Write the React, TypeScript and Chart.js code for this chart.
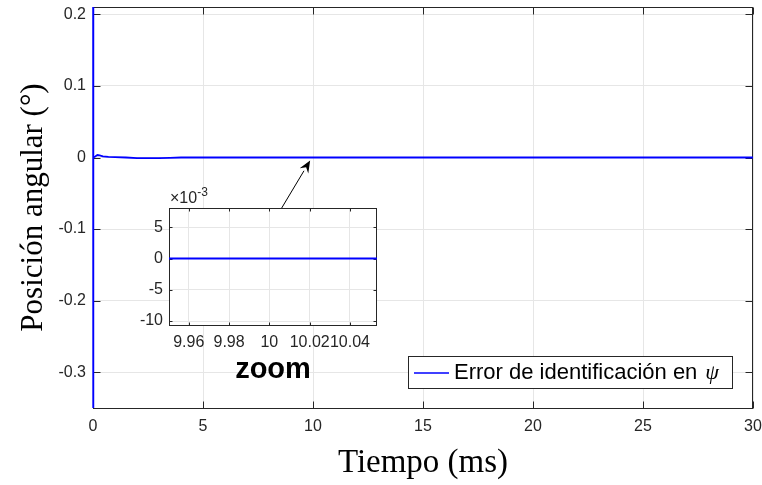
import { useEffect, useRef } from "react";
import { Chart, registerables } from "chart.js";

Chart.register(...registerables);

// Identification error of the yaw angle psi over time
const timeMs = [
  0, 0, 0.03, 0.1, 0.2, 0.3, 0.45, 0.7, 1.0, 1.5, 2.0, 2.5, 3.0, 3.5, 4.0,
  5.0, 6.0, 8.0, 10.0, 12.0, 15.0, 18.0, 21.0, 24.0, 27.0, 30.0,
];
const errorDeg = [
  0.9, -0.9, 0.0, 0.0015, 0.0035, 0.003, 0.0015, 0.0008, 0.0005, 0.0, -0.0008,
  -0.001, -0.0008, -0.0004, 0.0, 0.0, 0.0, 0.0, 0.0, 0.0, 0.0, 0.0, 0.0, 0.0,
  0.0, 0.0,
];

// Main axes
const xTicks = [0, 5, 10, 15, 20, 25, 30];
const yTicks = [-0.3, -0.2, -0.1, 0, 0.1, 0.2];
const xRange = [0, 30];
const yRange = [-0.35, 0.2103];

// Zoomed inset around t = 10 ms
const insetXTicks = [9.96, 9.98, 10, 10.02, 10.04];
const insetXLabels = ["9.96", "9.98", "10", "10.02", "10.04"];
const insetYTicks = [-0.01, -0.005, 0, 0.005];
const insetXRange = [9.9502, 10.0534];
const insetYRange = [-0.01064, 0.0081];

// Arrow from the inset to the zoomed spot (data units of the main axes)
const arrowFrom = { x: 8.545, y: -0.0722 };
const arrowTo = { x: 9.87, y: -0.0042 };

const legendLabel = "Error de identificación en";
const legendSymbol = "ψ";

const AXIS = "#262626";
const GRID = "#e6e6e6";
const BLUE = "#0000ff";
const SANS = "'Liberation Sans', Arial, Helvetica, sans-serif";
const SERIF = "'Liberation Serif', 'Times New Roman', serif";

function setTicks(values: number[]) {
  return (scale: any) => {
    scale.ticks = values.map((v) => ({ value: v }));
  };
}

// Fixed axis size, without the extra room Chart.js keeps for edge labels
function fitWidth(w: number) {
  return (s: any) => {
    s.width = w;
    s.paddingTop = 0;
    s.paddingBottom = 0;
  };
}
function fitHeight(h: number) {
  return (s: any) => {
    s.height = h;
    s.paddingLeft = 0;
    s.paddingRight = 0;
  };
}

// Box around the plot area with inward tick marks on all four sides
function framePlugin(id: string, tickLen: number) {
  return {
    id,
    beforeDatasetsDraw(chart: any) {
      const { ctx, chartArea: a, scales } = chart;
      const L = Math.round(a.left) + 0.5;
      const R = Math.round(a.right) - 0.5;
      const T = Math.round(a.top) + 0.5;
      const B = Math.round(a.bottom) + 0.5;
      ctx.save();
      ctx.strokeStyle = AXIS;
      ctx.lineWidth = 1;
      ctx.beginPath();
      for (const t of scales.x.ticks) {
        const px = Math.round(scales.x.getPixelForValue(t.value)) + 0.5;
        ctx.moveTo(px, B);
        ctx.lineTo(px, B - tickLen);
        ctx.moveTo(px, T);
        ctx.lineTo(px, T + tickLen);
      }
      for (const t of scales.y.ticks) {
        const py = Math.round(scales.y.getPixelForValue(t.value)) + 0.5;
        ctx.moveTo(L, py);
        ctx.lineTo(L + tickLen, py);
        ctx.moveTo(R, py);
        ctx.lineTo(R - tickLen, py);
      }
      ctx.stroke();
      ctx.strokeRect(L, T, R - L, B - T);
      ctx.restore();
    },
  };
}

const arrowPlugin = {
  id: "zoomArrow",
  afterDatasetsDraw(chart: any) {
    const { ctx, scales } = chart;
    const x0 = scales.x.getPixelForValue(arrowFrom.x);
    const y0 = scales.y.getPixelForValue(arrowFrom.y);
    const x1 = scales.x.getPixelForValue(arrowTo.x);
    const y1 = scales.y.getPixelForValue(arrowTo.y);
    const ang = Math.atan2(y1 - y0, x1 - x0);
    const headLen = 12;
    const headHalf = 5;
    const bx = x1 - headLen * Math.cos(ang);
    const by = y1 - headLen * Math.sin(ang);
    ctx.save();
    ctx.strokeStyle = "#000";
    ctx.fillStyle = "#000";
    ctx.lineWidth = 1;
    ctx.beginPath();
    ctx.moveTo(x0, y0);
    ctx.lineTo(bx, by);
    ctx.stroke();
    ctx.beginPath();
    ctx.moveTo(x1, y1);
    ctx.lineTo(bx + headHalf * Math.sin(ang), by - headHalf * Math.cos(ang));
    ctx.lineTo(bx + 0.35 * headLen * Math.cos(ang), by + 0.35 * headLen * Math.sin(ang));
    ctx.lineTo(bx - headHalf * Math.sin(ang), by + headHalf * Math.cos(ang));
    ctx.closePath();
    ctx.fill();
    ctx.restore();
  },
};

const legendPlugin = {
  id: "boxLegend",
  afterDraw(chart: any) {
    const { ctx, chartArea: a } = chart;
    const w = 324;
    const h = 32;
    const right = Math.round(a.right) - 21;
    const bottom = Math.round(a.bottom) - 20;
    const left = right - w;
    const top = bottom - h;
    const cy = top + h / 2 + 1;
    ctx.save();
    ctx.fillStyle = "#fff";
    ctx.fillRect(left, top, w, h);
    ctx.strokeStyle = AXIS;
    ctx.lineWidth = 1;
    ctx.strokeRect(left + 0.5, top + 0.5, w, h);
    ctx.strokeStyle = BLUE;
    ctx.lineWidth = 1.5;
    ctx.beginPath();
    ctx.moveTo(left + 6, cy);
    ctx.lineTo(left + 41, cy);
    ctx.stroke();
    ctx.fillStyle = "#000";
    ctx.textBaseline = "middle";
    ctx.textAlign = "left";
    ctx.font = `22px ${SANS}`;
    ctx.fillText(legendLabel, left + 46, cy);
    const tw = ctx.measureText(legendLabel).width;
    ctx.font = `italic 22px ${SERIF}`;
    ctx.fillText(legendSymbol, left + 46 + tw + 8, cy);
    ctx.restore();
  },
};

const insetBackground = {
  id: "insetBackground",
  beforeDraw(chart: any) {
    const { ctx, chartArea: a } = chart;
    ctx.save();
    ctx.fillStyle = "#fff";
    ctx.fillRect(a.left, a.top, a.right - a.left, a.bottom - a.top);
    ctx.restore();
  },
};

const insetExponent = {
  id: "insetExponent",
  afterDraw(chart: any) {
    const { ctx, chartArea: a } = chart;
    const x = a.left + 1;
    const y = a.top - 5;
    ctx.save();
    ctx.fillStyle = AXIS;
    ctx.textBaseline = "alphabetic";
    ctx.textAlign = "left";
    ctx.font = `16px ${SANS}`;
    ctx.fillText("×10", x, y);
    const w = ctx.measureText("×10").width;
    ctx.font = `12px ${SANS}`;
    ctx.fillText("-3", x + w, y - 7);
    ctx.restore();
  },
};

const tickFont = { family: SANS, size: 16 };

export default function App() {
  const mainRef = useRef<HTMLCanvasElement>(null);
  const insetRef = useRef<HTMLCanvasElement>(null);

  useEffect(() => {
    const points = timeMs.map((t, i) => ({ x: t, y: errorDeg[i] }));

    const lineDataset = {
      data: points,
      borderColor: BLUE,
      borderWidth: 1.8,
      pointRadius: 0,
      tension: 0,
      fill: false,
      clip: { left: 2, right: 2, top: 0, bottom: 0 },
    };

    const main = new Chart(mainRef.current!, {
      type: "line",
      data: { datasets: [{ ...lineDataset, label: `${legendLabel} ${legendSymbol}` }] },
      options: {
        animation: false,
        responsive: false,
        devicePixelRatio: 1,
        layout: { padding: { top: 7, right: 9, left: 0, bottom: 0 } },
        plugins: { legend: { display: false }, tooltip: { enabled: false } },
        scales: {
          x: {
            type: "linear",
            min: xRange[0],
            max: xRange[1],
            afterBuildTicks: setTicks(xTicks),
            afterFit: fitHeight(77),
            grid: { color: GRID, drawTicks: false },
            border: { display: false },
            ticks: {
              font: tickFont,
              color: AXIS,
              padding: 9,
              autoSkip: false,
              maxRotation: 0,
              callback: (v: any) => String(v),
            },
            title: {
              display: true,
              text: "Tiempo (ms)",
              font: { family: SERIF, size: 33 },
              color: "#000",
              padding: { top: 0, bottom: 2 },
            },
          },
          y: {
            type: "linear",
            min: yRange[0],
            max: yRange[1],
            afterBuildTicks: setTicks(yTicks),
            afterFit: fitWidth(93),
            grid: { color: GRID, drawTicks: false },
            border: { display: false },
            ticks: {
              font: tickFont,
              color: AXIS,
              padding: 7,
              callback: (v: any) => String(Math.round(v * 10) / 10),
            },
            title: {
              display: true,
              text: "Posición angular (°)",
              font: { family: SERIF, size: 31 },
              color: "#000",
              padding: { top: 15, bottom: 0 },
            },
          },
        },
      },
      plugins: [framePlugin("mainFrame", 7), arrowPlugin, legendPlugin],
    } as any);

    const inset = new Chart(insetRef.current!, {
      type: "line",
      data: { datasets: [{ ...lineDataset, borderWidth: 2, clip: 0 }] },
      options: {
        animation: false,
        responsive: false,
        devicePixelRatio: 1,
        layout: { padding: { top: 28, right: 3, left: 0, bottom: 0 } },
        plugins: { legend: { display: false }, tooltip: { enabled: false } },
        scales: {
          x: {
            type: "linear",
            min: insetXRange[0],
            max: insetXRange[1],
            afterBuildTicks: setTicks(insetXTicks),
            afterFit: fitHeight(65),
            grid: { color: GRID, drawTicks: false },
            border: { display: false },
            ticks: {
              font: tickFont,
              color: AXIS,
              padding: 8,
              autoSkip: false,
              maxRotation: 0,
              minRotation: 0,
              callback: (_v: any, i: number) => insetXLabels[i],
            },
            title: {
              display: true,
              text: "zoom",
              font: { family: SANS, size: 29, weight: "bold" },
              color: "#000",
              padding: { top: 0, bottom: 3 },
            },
          },
          y: {
            type: "linear",
            min: insetYRange[0],
            max: insetYRange[1],
            afterBuildTicks: setTicks(insetYTicks),
            afterFit: fitWidth(49),
            grid: { color: GRID, drawTicks: false },
            border: { display: false },
            ticks: {
              font: tickFont,
              color: AXIS,
              padding: 6,
              callback: (v: any) => String(Math.round(v * 1000)),
            },
          },
        },
      },
      plugins: [insetBackground, framePlugin("insetFrame", 3), insetExponent],
    } as any);

    return () => {
      main.destroy();
      inset.destroy();
    };
  }, []);

  return (
    <div
      style={{
        position: "fixed",
        left: 0,
        top: 0,
        width: 762,
        height: 485,
        background: "#fff",
      }}
    >
      <canvas
        ref={mainRef}
        width={762}
        height={485}
        style={{ position: "absolute", left: 0, top: 0, width: 762, height: 485 }}
      />
      <canvas
        ref={insetRef}
        width={260}
        height={210}
        style={{ position: "absolute", left: 120, top: 180, width: 260, height: 210 }}
      />
    </div>
  );
}
